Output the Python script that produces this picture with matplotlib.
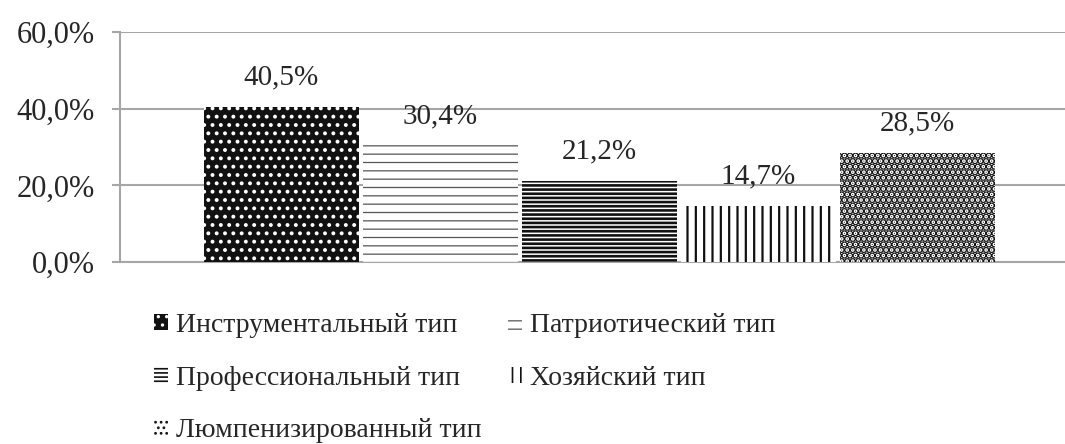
import matplotlib
matplotlib.use("Agg")
import matplotlib.pyplot as plt
from matplotlib.ticker import FuncFormatter

# shares of respondents by labour-motivation type
types = ["Инструментальный тип", "Патриотический тип", "Профессиональный тип",
         "Хозяйский тип", "Люмпенизированный тип"]
shares = [40.5, 30.4, 21.2, 14.7, 28.5]
y_ticks = [0, 20, 40, 60]

# (face, hatch colour, hatch, hatch width) per type
styles = [
    ("#111111", "white", "..", 1.6),
    ("white", "#555555", "--", 0.9),
    ("white", "#111111", "----", 1.9),
    ("white", "#111111", "||", 1.6),
    ("white", "#111111", "...", 3.5),
]

plt.rcParams["font.family"] = ["Liberation Serif", "DejaVu Serif"]
text_col = "#262626"
grid_col = "#a6a6a6"


def set_hatch_width(patch, lw):
    if hasattr(patch, "set_hatch_linewidth"):
        patch.set_hatch_linewidth(lw)


fig = plt.figure(figsize=(10.65, 4.44), dpi=100)
ax = fig.add_axes([120 / 1065, 1 - 262 / 444, 945 / 1065, 230 / 444])

handles = []
for i, (name, val) in enumerate(zip(types, shares)):
    face, hcol, hatch, hlw = styles[i]
    plt.rcParams["hatch.linewidth"] = hlw
    b = ax.bar(i, val, width=0.975, color=face, edgecolor=hcol, hatch=hatch,
               linewidth=0, label=name, zorder=2)
    for p in b.patches:
        set_hatch_width(p, hlw)
    handles.append(b)
    ax.text(i, val + 4.2, f"{val:.1f}%".replace(".", ","), ha="center",
            va="bottom", fontsize=21, color=text_col, zorder=3)

ax.set_xlim(-1.016, 4.93)
ax.set_ylim(0, 60)
ax.set_yticks(y_ticks)
ax.yaxis.set_major_formatter(FuncFormatter(lambda v, p: f"{v:.1f}%".replace(".", ",")))
ax.tick_params(axis="y", labelsize=22, labelcolor=text_col, color=grid_col,
               width=1.5, length=6, pad=12)
ax.set_xticks([])
ax.grid(axis="y", color=grid_col, linewidth=1.5, zorder=0)
ax.set_axisbelow(True)
for side in ["top", "right", "bottom"]:
    ax.spines[side].set_visible(False)
ax.spines["left"].set_color(grid_col)
ax.spines["left"].set_linewidth(1.5)
ax.axhline(0, color=grid_col, linewidth=1.5, zorder=1, clip_on=False)

# legend laid out in two columns, three rows in the first
order = [0, 2, 4, 1, 3]
leg = fig.legend([handles[k] for k in order], [types[k] for k in order],
                 loc="upper left", bbox_to_anchor=(140 / 1065, 1 - 299 / 444),
                 ncol=2, frameon=False, fontsize=20, labelcolor=text_col,
                 handlelength=0.5, handleheight=0.5, handletextpad=0.3,
                 columnspacing=0.95, labelspacing=1.0, borderpad=0)
for k, p in zip(order, leg.get_patches()):
    set_hatch_width(p, min(styles[k][3], 1.2))

fig.savefig("out.png", dpi=100)
